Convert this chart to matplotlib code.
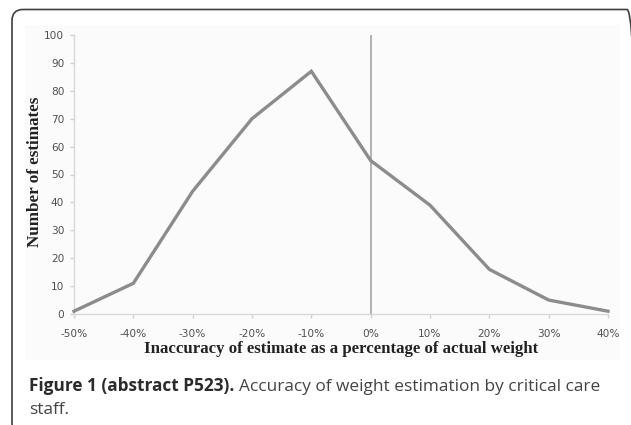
import matplotlib
matplotlib.use("Agg")
import matplotlib.pyplot as plt
from matplotlib.patches import FancyBboxPatch, Rectangle

# Data
inaccuracy_pct = [-50, -40, -30, -20, -10, 0, 10, 20, 30, 40]
n_estimates = [1, 11, 44, 70, 87, 55, 39, 16, 5, 1]
x_tick_labels = ["-50%", "-40%", "-30%", "-20%", "-10%", "0%", "10%", "20%", "30%", "40%"]
y_ticks = [0, 10, 20, 30, 40, 50, 60, 70, 80, 90, 100]

W, H = 631, 425
fig = plt.figure(figsize=(W / 100, H / 100), dpi=100)
fig.patch.set_facecolor("white")

def fx(px):
    return px / W

def fy(py):
    return 1 - py / H

# inner image panel (slightly off-white)
fig.patches.append(Rectangle((25, H - 360), 595, 335, transform=None,
                             facecolor="#fbfbfb", edgecolor="none", zorder=-5))

# rounded frame, partially outside the image (pixel coordinates)
fig.patches.append(FancyBboxPatch((12, H - 434), 626, 424.5,
                                  boxstyle="round,pad=0,rounding_size=11",
                                  transform=None, facecolor="none",
                                  edgecolor="#404040", linewidth=1.2, zorder=-4))

ax = fig.add_axes([fx(74), fy(314), fx(608) - fx(74), fy(35) - fy(314)])
ax.set_zorder(5)
ax.set_facecolor("none")
ax.axvline(0, ymin=0, ymax=1, color="#b5b5b5", linewidth=1.5, zorder=2)
ax.plot(inaccuracy_pct, n_estimates, color="#8c8c8c", linewidth=2.4, zorder=3,
        solid_joinstyle="miter", clip_on=False)

ax.set_xlim(-50, 40)
ax.set_ylim(0, 100)
ax.set_xticks(inaccuracy_pct)
ax.set_xticklabels(x_tick_labels)
ax.set_yticks(y_ticks)

for s in ["top", "right"]:
    ax.spines[s].set_visible(False)
for s in ["left", "bottom"]:
    ax.spines[s].set_color("#d8d8d8")
    ax.spines[s].set_linewidth(1.0)

ax.tick_params(axis="both", colors="#d0d0d0", length=3, width=1.0,
               labelcolor="#505050", labelsize=7.6)
ax.tick_params(axis="x", pad=8)
ax.tick_params(axis="y", pad=4)
for lab in ax.get_xticklabels() + ax.get_yticklabels():
    lab.set_family("DejaVu Sans")

ax.set_xlabel("Inaccuracy of estimate as a percentage of actual weight",
              family="Liberation Serif", fontweight="bold", fontsize=12.1,
              color="#222222", labelpad=1)
ax.set_ylabel("Number of estimates", family="Liberation Serif",
              fontweight="bold", fontsize=12.3, color="#222222")
ax.yaxis.set_label_coords(fx(35), fy(172), transform=fig.transFigure)
ax.yaxis.label.set_va("center")

# caption
cap_size = 12.4
bold = fig.text(fx(29), fy(391), "Figure 1 (abstract P523).", family="Open Sans",
                fontweight="bold", fontsize=cap_size, color="#2b2b2b",
                va="baseline", ha="left")
fig.canvas.draw()
bb = bold.get_window_extent(renderer=fig.canvas.get_renderer())
fig.text(bb.x1 / W + fx(5), fy(391), "Accuracy of weight estimation by critical care",
         family="Open Sans", fontsize=cap_size, color="#444444",
         va="baseline", ha="left")
fig.text(fx(29), fy(414), "staff.", family="Open Sans", fontsize=cap_size,
         color="#444444", va="baseline", ha="left")

fig.savefig("out.png", dpi=100, facecolor="white")
